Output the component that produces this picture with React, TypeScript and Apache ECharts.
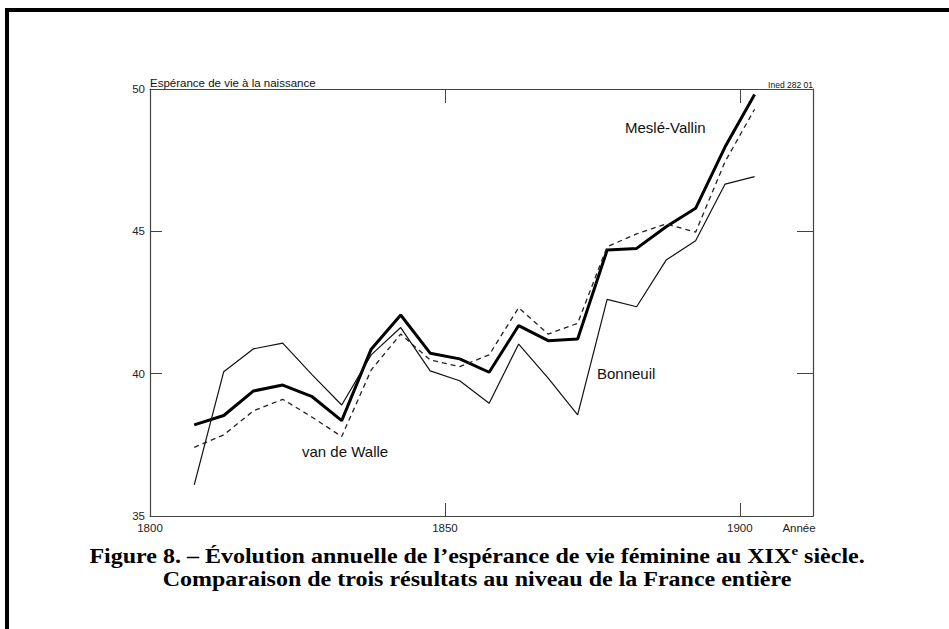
import React, { useEffect, useRef } from "react";
import * as echarts from "echarts";

const years = [1807.5, 1812.5, 1817.5, 1822.5, 1827.5, 1832.5, 1837.5, 1842.5, 1847.5, 1852.5, 1857.5, 1862.5, 1867.5, 1872.5, 1877.5, 1882.5, 1887.5, 1892.5, 1897.5, 1902.5];
const mesleVallin = [38.2, 38.53, 39.39, 39.6, 39.19, 38.35, 40.86, 42.06, 40.72, 40.52, 40.05, 41.69, 41.16, 41.22, 44.34, 44.4, 45.16, 45.81, 47.97, 49.81];
const vanDeWalle = [37.41, 37.85, 38.69, 39.1, 38.47, 37.79, 40.13, 41.39, 40.48, 40.25, 40.66, 42.32, 41.39, 41.77, 44.46, 44.91, 45.26, 44.97, 47.45, 49.29];
const bonneuil = [36.09, 40.07, 40.87, 41.07, 39.96, 38.9, 40.66, 41.62, 40.1, 39.75, 38.96, 41.04, 39.84, 38.55, 42.61, 42.35, 43.99, 44.67, 46.66, 46.92];

const xLabels = [1800, 1850, 1900];
const xTicks = [1850, 1900];
const yLabels = [35, 40, 45, 50];
const yTicks = [40, 45];

const SANS = "'Liberation Sans', Arial, sans-serif";
const SERIF = "'Liberation Serif', 'Times New Roman', serif";

export default function App() {
  const ref = useRef<HTMLDivElement>(null);
  useEffect(() => {
    if (!ref.current) return;
    const chart = echarts.init(ref.current, null, { renderer: "svg" });
    const axisLine = { show: true, lineStyle: { color: "#444", width: 1.2 } };
    const pair = (xs: number[], ys: number[]) => xs.map((x, i) => [x, ys[i]]);
    chart.setOption({
      animation: false,
      backgroundColor: "#fff",
      grid: { left: 150, right: 136, top: 89, bottom: 113, containLabel: false, outerBoundsMode: "none" },
      xAxis: [
        {
          type: "value", min: 1800, max: 1912.4, position: "bottom",
          axisLine,
          axisTick: { show: true, inside: true, length: 13, customValues: xTicks, lineStyle: { color: "#444", width: 1 } },
          axisLabel: { show: true, customValues: xLabels, formatter: (v: number) => String(v), fontSize: 11.5, fontFamily: SANS, color: "#222", margin: 6 },
          splitLine: { show: false },
        },
        {
          type: "value", min: 1800, max: 1912.4, position: "top",
          axisLine,
          axisTick: { show: true, inside: true, length: 14, customValues: xTicks, lineStyle: { color: "#444", width: 1 } },
          axisLabel: { show: false },
          splitLine: { show: false },
        },
      ],
      yAxis: [
        {
          type: "value", min: 35, max: 50, interval: 5, position: "left",
          axisLine,
          axisTick: { show: true, inside: true, length: 12, customValues: yTicks, lineStyle: { color: "#444", width: 1 } },
          axisLabel: { show: true, customValues: yLabels, fontSize: 11.5, fontFamily: SANS, color: "#222", margin: 5 },
          splitLine: { show: false },
        },
        {
          type: "value", min: 35, max: 50, interval: 5, position: "right",
          axisLine,
          axisTick: { show: true, inside: true, length: 16, customValues: yTicks, lineStyle: { color: "#444", width: 1 } },
          axisLabel: { show: false },
          splitLine: { show: false },
        },
      ],
      series: [
        {
          name: "Meslé-Vallin", type: "line", data: pair(years, mesleVallin), showSymbol: false,
          lineStyle: { color: "#000", width: 3 },
        },
        {
          name: "van de Walle", type: "line", data: pair(years, vanDeWalle), showSymbol: false,
          lineStyle: { color: "#222", width: 1.3, type: [5, 4] },
        },
        {
          name: "Bonneuil", type: "line", data: pair(years, bonneuil), showSymbol: false,
          lineStyle: { color: "#111", width: 1.2 },
        },
      ],
      graphic: [
        { type: "rect", shape: { x: 5, y: 8, width: 4, height: 621 }, style: { fill: "#000" } },
        { type: "rect", shape: { x: 5, y: 8, width: 944, height: 4 }, style: { fill: "#000" } },
        { type: "text", x: 150, y: 83, style: { text: "Espérance de vie à la naissance", font: `11.5px ${SANS}`, fill: "#111", align: "left", verticalAlign: "middle" } },
        { type: "text", x: 813, y: 85, style: { text: "Ined 282 01", font: `8.5px ${SANS}`, fill: "#111", align: "right", verticalAlign: "middle" } },
        { type: "text", x: 799, y: 528, style: { text: "Année", font: `11.5px ${SANS}`, fill: "#222", align: "center", verticalAlign: "middle" } },
        { type: "text", x: 625, y: 127, style: { text: "Meslé-Vallin", font: `15px ${SANS}`, fill: "#111", align: "left", verticalAlign: "middle" } },
        { type: "text", x: 597, y: 373, style: { text: "Bonneuil", font: `15px ${SANS}`, fill: "#111", align: "left", verticalAlign: "middle" } },
        { type: "text", x: 302, y: 451, style: { text: "van de Walle", font: `15px ${SANS}`, fill: "#111", align: "left", verticalAlign: "middle" } },
        {
          type: "text", x: 477, y: 556, scaleX: 1.2,
          style: {
            text: "{a|Figure 8. – Évolution annuelle de l’espérance de vie féminine au XIX}{s|e}{a| siècle.}",
            align: "center", verticalAlign: "middle", fill: "#000",
            rich: {
              a: { fontFamily: SERIF, fontWeight: "bold", fontSize: 20, fill: "#000", lineHeight: 23 },
              s: { fontFamily: SERIF, fontWeight: "bold", fontSize: 12.5, fill: "#000", verticalAlign: "top", lineHeight: 23 },
            },
          },
        },
        {
          type: "text", x: 477, y: 579, scaleX: 1.2,
          style: { text: "Comparaison de trois résultats au niveau de la France entière", font: `bold 20px ${SERIF}`, fill: "#000", align: "center", verticalAlign: "middle" },
        },
      ],
    });
    return () => chart.dispose();
  }, []);
  return <div ref={ref} style={{ position: "fixed", left: 0, top: 0, width: 949, height: 629, background: "#fff" }} />;
}
